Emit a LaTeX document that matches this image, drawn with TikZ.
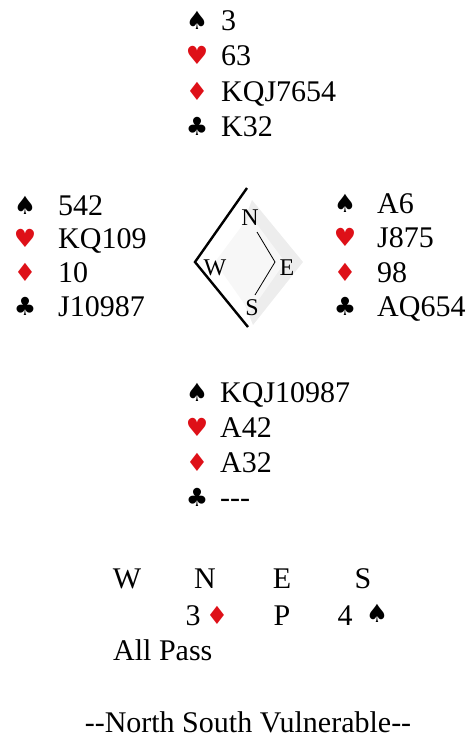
\documentclass[tikz,border=0pt]{standalone}
\usepackage{fontspec}
\setmainfont{Liberation Serif}
\newfontfamily\suitfont{DejaVu Sans}
\definecolor{suitred}{RGB}{222,16,24}

\begin{document}
\begin{tikzpicture}[x=1pt,y=-1pt,
    card/.style={anchor=base west,inner sep=0pt,font=\rmfamily\fontsize{30}{34}\selectfont},
    bid/.style={anchor=base,inner sep=0pt,font=\rmfamily\fontsize{30}{34}\selectfont},
    pip/.style={inner sep=0pt,font=\suitfont\fontsize{25}{27}\selectfont},
    compass/.style={inner sep=0pt,font=\rmfamily\fontsize{24}{26}\selectfont}]
  \useasboundingbox (0,0) rectangle (467,740);
  % hands
  \foreach \suit/\clr/\cards [count=\k] in {♠/black/3,♥/suitred/63,♦/suitred/KQJ7654,♣/black/K32} {
    \node[card] (n\k) at (221,{30+35.5*(\k-1)}) {\cards};
    \node[pip,text=\clr] (ns\k) at (197,{30+35.5*(\k-1)-10}) {\suit};
  }
  \foreach \suit/\clr/\cards [count=\k] in {♠/black/542,♥/suitred/KQ109,♦/suitred/10,♣/black/J10987} {
    \node[card] (w\k) at (58,{215+33.8*(\k-1)}) {\cards};
    \node[pip,text=\clr] (ws\k) at (25,{215+33.8*(\k-1)-10}) {\suit};
  }
  \foreach \suit/\clr/\cards [count=\k] in {♠/black/A6,♥/suitred/J875,♦/suitred/98,♣/black/AQ654} {
    \node[card] (e\k) at (377,{213+34.5*(\k-1)}) {\cards};
    \node[pip,text=\clr] (es\k) at (345,{213+34.5*(\k-1)-10}) {\suit};
  }
  \foreach \suit/\clr/\cards [count=\k] in {♠/black/KQJ10987,♥/suitred/A42,♦/suitred/A32,♣/black/-{}-{}-} {
    \node[card] (s\k) at (220,{402+35*(\k-1)}) {\cards};
    \node[pip,text=\clr] (ss\k) at (197,{402+35*(\k-1)-10}) {\suit};
  }
  % compass
  \fill[black!7] (252,200) -- (303,262) -- (253,325) -- (228,262) -- cycle;
  \fill[black!3] (250,215) -- (285,262) -- (250,312) -- (215,262) -- cycle;
  \draw[line width=2.4pt] (247,188) -- (195,262) -- (248,327);
  \draw[line width=0.8pt] (257,232) -- (275,262) -- (255,295);
  \node[compass] (cn) at (250,218) {N};
  \node[compass] (cw) at (215,268) {W};
  \node[compass] (ce) at (287,268) {E};
  \node[compass] (cs) at (252,308) {S};
  % auction
  \foreach \p/\x in {W/127,N/205,E/282,S/363}
    \node[bid] (b\p) at (\x,588) {\p};
  \node[bid] (b3) at (193,625) {3};
  \node[pip,text=suitred] (b3d) at (217,615) {♦};
  \node[bid] (bpass) at (282,625) {P};
  \node[bid] (b4) at (345,625) {4};
  \node[pip] (b4s) at (377,613) {♠};
  \node[card] (allpass) at (113,660) {All Pass};
  \node[bid] (vul) at (248,732) {-{}-North South Vulnerable-{}-};
\end{tikzpicture}
\end{document}
